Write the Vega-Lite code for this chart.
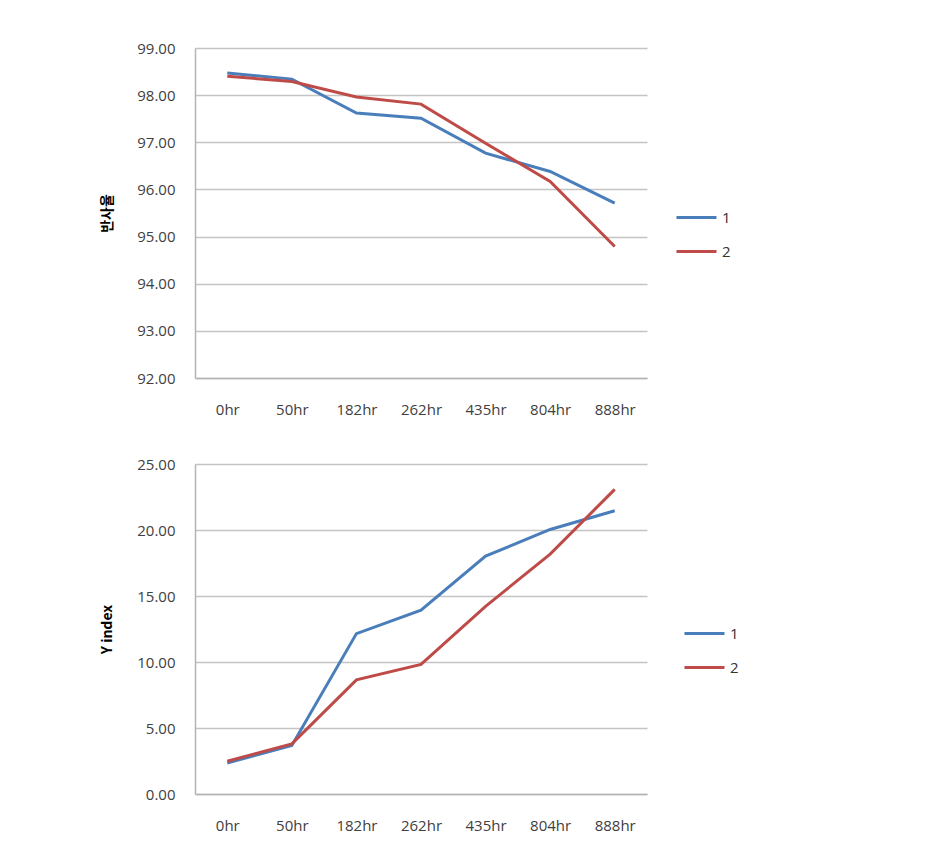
{
  "$schema": "https://vega.github.io/schema/vega-lite/v6.json",
  "background": "white",
  "padding": {"left": 100, "top": 41, "right": 5, "bottom": 5},
  "datasets": {
    "top": [
      {"t": "0hr", "series": "1", "v": 98.47},
      {"t": "50hr", "series": "1", "v": 98.34},
      {"t": "182hr", "series": "1", "v": 97.62},
      {"t": "262hr", "series": "1", "v": 97.51},
      {"t": "435hr", "series": "1", "v": 96.77},
      {"t": "804hr", "series": "1", "v": 96.38},
      {"t": "888hr", "series": "1", "v": 95.71},
      {"t": "0hr", "series": "2", "v": 98.40},
      {"t": "50hr", "series": "2", "v": 98.29},
      {"t": "182hr", "series": "2", "v": 97.96},
      {"t": "262hr", "series": "2", "v": 97.81},
      {"t": "435hr", "series": "2", "v": 96.98},
      {"t": "804hr", "series": "2", "v": 96.17},
      {"t": "888hr", "series": "2", "v": 94.79}
    ],
    "bottom": [
      {"t": "0hr", "series": "1", "v": 2.35},
      {"t": "50hr", "series": "1", "v": 3.67},
      {"t": "182hr", "series": "1", "v": 12.15},
      {"t": "262hr", "series": "1", "v": 13.92},
      {"t": "435hr", "series": "1", "v": 18.02},
      {"t": "804hr", "series": "1", "v": 20.04},
      {"t": "888hr", "series": "1", "v": 21.46},
      {"t": "0hr", "series": "2", "v": 2.48},
      {"t": "50hr", "series": "2", "v": 3.80},
      {"t": "182hr", "series": "2", "v": 8.65},
      {"t": "262hr", "series": "2", "v": 9.82},
      {"t": "435hr", "series": "2", "v": 14.22},
      {"t": "804hr", "series": "2", "v": 18.17},
      {"t": "888hr", "series": "2", "v": 23.08}
    ]
  },
  "config": {
    "view": {"stroke": null},
    "concat": {"spacing": 40},
    "axis": {
      "labelFont": "Open Sans",
      "labelFontSize": 15,
      "labelColor": "#404040",
      "titleFont": "Noto Sans CJK KR",
      "titleFontSize": 14,
      "titleFontWeight": "bold",
      "titleColor": "#000000",
      "gridColor": "#c4c4c4",
      "gridWidth": 1.5,
      "domainColor": "#b4b4b4",
      "domainWidth": 1.5,
      "ticks": false
    },
    "legend": {
      "labelFont": "Open Sans",
      "labelFontSize": 15,
      "labelColor": "#333333",
      "symbolType": "stroke",
      "symbolStrokeWidth": 3,
      "symbolSize": 1600,
      "labelOffset": 4,
      "rowPadding": 4
    }
  },
  "resolve": {"scale": {"color": "independent"}, "legend": {"color": "independent"}},
  "vconcat": [
    {
      "width": 452,
      "height": 330,
      "data": {"name": "top"},
      "mark": {"type": "line", "strokeWidth": 3},
      "encoding": {
        "x": {
          "field": "t", "type": "ordinal",
          "sort": ["0hr", "50hr", "182hr", "262hr", "435hr", "804hr", "888hr"],
          "scale": {"type": "point", "padding": 0.5},
          "axis": {"title": null, "labelAngle": 0, "labelPadding": 24, "grid": false}
        },
        "y": {
          "field": "v", "type": "quantitative",
          "scale": {"domain": [92, 99], "nice": false, "zero": false},
          "axis": {"title": "반사율", "values": [92, 93, 94, 95, 96, 97, 98, 99], "format": ".2f", "labelPadding": 20, "titlePadding": 22}
        },
        "color": {
          "field": "series", "type": "nominal",
          "scale": {"domain": ["1", "2"], "range": ["#4a7ebb", "#be4b48"]},
          "legend": {"title": null, "orient": "none", "legendX": 480, "legendY": 148}
        }
      }
    },
    {
      "width": 452,
      "height": 330,
      "data": {"name": "bottom"},
      "mark": {"type": "line", "strokeWidth": 3},
      "encoding": {
        "x": {
          "field": "t", "type": "ordinal",
          "sort": ["0hr", "50hr", "182hr", "262hr", "435hr", "804hr", "888hr"],
          "scale": {"type": "point", "padding": 0.5},
          "axis": {"title": null, "labelAngle": 0, "labelPadding": 24, "grid": false}
        },
        "y": {
          "field": "v", "type": "quantitative",
          "scale": {"domain": [0, 25], "nice": false},
          "axis": {"title": "Y index", "values": [0, 5, 10, 15, 20, 25], "format": ".2f", "labelPadding": 20, "titlePadding": 22}
        },
        "color": {
          "field": "series", "type": "nominal",
          "scale": {"domain": ["1", "2"], "range": ["#4a7ebb", "#be4b48"]},
          "legend": {"title": null, "orient": "none", "legendX": 488, "legendY": 148}
        }
      }
    }
  ]
}
